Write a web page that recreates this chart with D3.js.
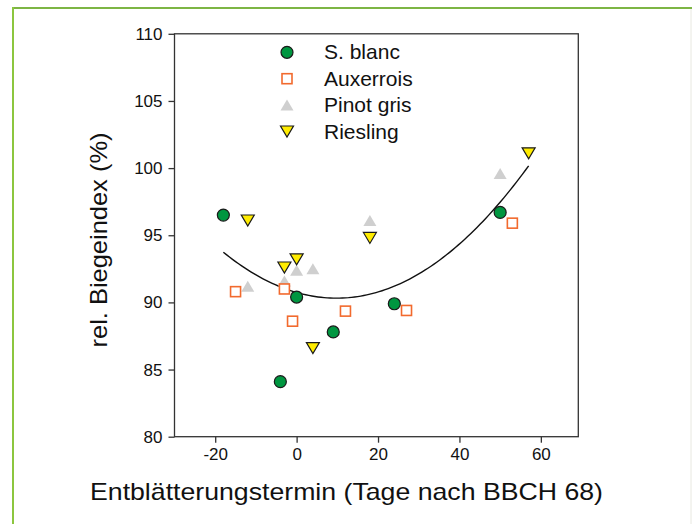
<!DOCTYPE html>
<html><head><meta charset="utf-8">
<script src="https://cdn.jsdelivr.net/npm/d3@7/dist/d3.min.js"></script>
<style>body{margin:0;background:#fff}svg{display:block}text{font-family:"Liberation Sans",Arial,sans-serif;fill:#111}</style>
</head><body>
<script>
const sBlancX = [-18, -4, 0, 9, 24, 50];
const sBlancY = [96.5, 84.1, 90.4, 87.8, 89.9, 96.7];
const auxerroisX = [-15, -3, -1, 12, 27, 53];
const auxerroisY = [90.8, 91.0, 88.6, 89.35, 89.4, 95.9];
const pinotX = [-12, -3, 0, 4, 18, 50];
const pinotY = [91.2, 91.6, 92.4, 92.5, 96.1, 99.6];
const rieslingX = [-12, -3, 0, 4, 18, 57];
const rieslingY = [96.1, 92.6, 93.2, 86.6, 94.8, 101.1];
const seriesNames = ["S. blanc", "Auxerrois", "Pinot gris", "Riesling"];
const xTicks = [-20, 0, 20, 40, 60];
const xTickLabels = ["-20", "0", "20", "40", "60"];
const yTicks = [80, 85, 90, 95, 100, 105, 110];

const W = 692, H = 524;
const svg = d3.select("body").append("svg").attr("width", W).attr("height", H);

// outer frame
svg.append("line").attr("x1", 13).attr("x2", W).attr("y1", 8).attr("y2", 8).attr("stroke", "#7db544").attr("stroke-width", 2);
svg.append("line").attr("x1", 13).attr("x2", 13).attr("y1", 7).attr("y2", H).attr("stroke", "#8cc63f").attr("stroke-width", 2);
svg.append("line").attr("x1", 691).attr("x2", 691).attr("y1", 9).attr("y2", H).attr("stroke", "#e8e8e0").attr("stroke-width", 1);

const L = 174.5, R = 578.3, T = 33.8, B = 436.7;
const x = d3.scaleLinear().domain([-30, 69.2]).range([L, R]);
const y = d3.scaleLinear().domain([80, 110]).range([B, T]);

// box
svg.append("rect").attr("x", L).attr("y", T).attr("width", R - L).attr("height", B - T)
  .attr("fill", "none").attr("stroke", "#333").attr("stroke-width", 1.3);

const xAxis = svg.append("g").attr("transform", `translate(0,${B})`)
  .call(d3.axisBottom(x).tickValues(xTicks).tickSize(6).tickPadding(5)
    .tickFormat((d, i) => xTickLabels[i]));
const yAxis = svg.append("g").attr("transform", `translate(${L},0)`)
  .call(d3.axisLeft(y).tickValues(yTicks).tickSize(6).tickPadding(6).tickFormat(d3.format("d")));
[xAxis, yAxis].forEach(g => {
  g.select(".domain").remove();
  g.selectAll(".tick line").attr("stroke", "#333").attr("stroke-width", 1.3);
  g.selectAll(".tick text").style("font-family", '"Liberation Sans",Arial,sans-serif').style("font-size", "17px").attr("fill", "#111");
});

// regression curve (least-squares quadratic fit on all points)
const allX = [].concat(sBlancX, auxerroisX, pinotX, rieslingX);
const allY = [].concat(sBlancY, auxerroisY, pinotY, rieslingY);
function quadFit(xs, ys) {
  const n = xs.length;
  let S = [0,0,0,0,0], Ty = [0,0,0];
  for (let i = 0; i < n; i++) {
    const v = xs[i];
    for (let k = 0; k < 5; k++) S[k] += Math.pow(v, k);
    for (let k = 0; k < 3; k++) Ty[k] += ys[i] * Math.pow(v, k);
  }
  const M = [[S[0],S[1],S[2],Ty[0]],[S[1],S[2],S[3],Ty[1]],[S[2],S[3],S[4],Ty[2]]];
  for (let i = 0; i < 3; i++) {
    for (let j = i + 1; j < 3; j++) {
      const f = M[j][i] / M[i][i];
      for (let k = i; k < 4; k++) M[j][k] -= f * M[i][k];
    }
  }
  const c = [0,0,0];
  for (let i = 2; i >= 0; i--) {
    let s = M[i][3];
    for (let k = i + 1; k < 3; k++) s -= M[i][k] * c[k];
    c[i] = s / M[i][i];
  }
  return c;
}
const coef = quadFit(allX, allY);
const xMin = d3.min(allX), xMax = d3.max(allX);
const curvePts = d3.range(0, 101).map(i => {
  const v = xMin + (xMax - xMin) * i / 100;
  return [v, coef[0] + coef[1] * v + coef[2] * v * v];
});
svg.append("path").datum(curvePts)
  .attr("d", d3.line().x(d => x(d[0])).y(d => y(d[1])))
  .attr("fill", "none").attr("stroke", "#111").attr("stroke-width", 1.4);

// marker drawing
const green = "#009640", orange = "#f26a2e", gray = "#cfcfcf", yellow = "#ffec00";
function drawMarker(g, type, cx, cy) {
  if (type === 0) {
    g.append("circle").attr("cx", cx).attr("cy", cy).attr("r", 6)
      .attr("fill", green).attr("stroke", "#1a1a1a").attr("stroke-width", 1.2);
  } else if (type === 1) {
    g.append("rect").attr("x", cx - 5).attr("y", cy - 5).attr("width", 10).attr("height", 10)
      .attr("fill", "#fff").attr("stroke", orange).attr("stroke-width", 1.6);
  } else if (type === 2) {
    g.append("path").attr("d", `M${cx - 6.5},${cy + 5.5}L${cx + 6.5},${cy + 5.5}L${cx},${cy - 5.5}Z`)
      .attr("fill", gray);
  } else {
    g.append("path").attr("d", `M${cx - 6.5},${cy - 5.5}L${cx + 6.5},${cy - 5.5}L${cx},${cy + 5.5}Z`)
      .attr("fill", yellow).attr("stroke", "#1a1a1a").attr("stroke-width", 1.2).attr("stroke-linejoin", "miter");
  }
}
const seriesData = [[sBlancX, sBlancY], [auxerroisX, auxerroisY], [pinotX, pinotY], [rieslingX, rieslingY]];
const drawOrder = [2, 1, 0, 3];
const pts = svg.append("g");
drawOrder.forEach(s => {
  const [xs, ys] = seriesData[s];
  xs.forEach((v, i) => drawMarker(pts, s, x(v), y(ys[i])));
});

// legend
const leg = svg.append("g");
seriesNames.forEach((name, i) => {
  const cy = 52.3 + i * 26.4;
  drawMarker(leg, i, 287, cy);
  leg.append("text").attr("x", 324).attr("y", cy + 7).style("font-size", "21px").text(name);
});

// axis titles
svg.append("text").attr("x", 346.5).attr("y", 500).attr("text-anchor", "middle")
  .attr("textLength", 513).attr("lengthAdjust", "spacingAndGlyphs")
  .style("font-size", "24px").text("Entblätterungstermin (Tage nach BBCH 68)");
svg.append("text").attr("transform", "translate(107,240) rotate(-90)").attr("text-anchor", "middle")
  .attr("textLength", 215).attr("lengthAdjust", "spacingAndGlyphs")
  .style("font-size", "24px").text("rel. Biegeindex (%)");
</script>
</body></html>
